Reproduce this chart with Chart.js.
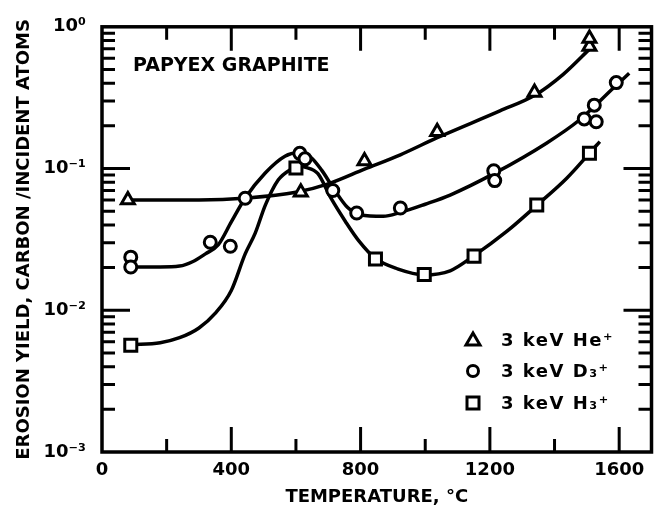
<!DOCTYPE html>
<html><head><meta charset="utf-8">
<script src="https://cdn.jsdelivr.net/npm/chart.js@4.4.1/dist/chart.umd.min.js"></script>
<style>html,body{margin:0;padding:0;background:#fff}#wrap{width:663px;height:508px;position:relative}</style>
</head><body><div id="wrap"><canvas id="c" width="663" height="508"></canvas></div>
<script>
// ---- measured points (temperature °C, erosion yield) ----
const heT = [80, 615, 812, 1037, 1338, 1508, 1508];
const heY = [0.060, 0.068, 0.113, 0.182, 0.344, 0.727, 0.826];
const dT = [89, 89, 335, 397, 443, 612, 628, 714, 788, 923, 1212, 1215, 1492, 1529, 1523, 1591];
const dY = [0.0237, 0.0202, 0.0302, 0.0283, 0.0617, 0.128, 0.117, 0.070, 0.0486, 0.0527, 0.0964, 0.0822, 0.224, 0.214, 0.280, 0.404];
const hT = [89, 600, 846, 997, 1151, 1345, 1508];
const hY = [0.00567, 0.101, 0.0230, 0.0179, 0.0241, 0.0552, 0.128];
// ---- fitted curves as drawn ----
const heFitT = [80, 300, 450, 600, 700, 812, 923, 1037, 1231, 1340, 1426, 1512];
const heFitY = [0.060, 0.060, 0.062, 0.068, 0.078, 0.099, 0.125, 0.165, 0.255, 0.33, 0.46, 0.71];
const dFitT = [90, 180, 240, 280, 320, 360, 400, 443, 505, 566, 606, 646, 680, 717, 760, 800, 870, 923, 1000, 1077, 1212, 1375, 1477, 1582, 1631];
const dFitY = [0.0202, 0.0202, 0.0205, 0.022, 0.025, 0.029, 0.042, 0.062, 0.093, 0.122, 0.129, 0.120, 0.097, 0.072, 0.053, 0.047, 0.046, 0.049, 0.056, 0.065, 0.092, 0.151, 0.22, 0.37, 0.47];
const hFitT = [89, 180, 240, 300, 350, 400, 443, 474, 505, 545, 585, 606, 630, 668, 708, 754, 794, 846, 914, 997, 1077, 1151, 1252, 1345, 1437, 1508, 1540];
const hFitY = [0.0057, 0.0059, 0.0064, 0.0075, 0.0095, 0.0138, 0.025, 0.035, 0.055, 0.083, 0.099, 0.104, 0.102, 0.092, 0.062, 0.042, 0.031, 0.0232, 0.0196, 0.0178, 0.019, 0.0243, 0.036, 0.055, 0.085, 0.128, 0.155];
// ---- axes / labels ----
const xTicks = [0, 400, 800, 1200, 1600];
const xMinorTicks = [200, 600, 1000, 1400];
const yTicks = [0.001, 0.01, 0.1, 1];
const yTickLabels = ['10\u207B\u00B3', '10\u207B\u00B2', '10\u207B\u00B9', '10\u2070'];
const seriesNames = ['3 keV He\u207A', '3 keV D\u2083\u207A', '3 keV H\u2083\u207A'];
const xTitle = 'TEMPERATURE, \u00B0C';
const yTitle = 'EROSION YIELD, CARBON /INCIDENT ATOMS';
const noteText = 'PAPYEX GRAPHITE';

const FONT = "'DejaVu Sans', sans-serif";
const pts = (xs, ys) => xs.map((x, i) => ({x: x, y: ys[i]}));

function lineDs(label, xs, ys) {
  return {label, data: pts(xs, ys), showLine: true, borderColor: '#000', borderWidth: 3.5,
    pointRadius: 0, pointHoverRadius: 0, cubicInterpolationMode: 'monotone', fill: false, order: 2};
}
function markDs(label, xs, ys, style, r) {
  return {label, data: pts(xs, ys), showLine: false, pointStyle: style, pointRadius: r,
    pointBackgroundColor: '#fff', pointBorderColor: '#000', pointBorderWidth: 3, order: 1};
}

const frame = {
  id: 'frame',
  afterDatasetsDraw(chart) {
    const {ctx, chartArea: a, scales: {x, y}} = chart;
    ctx.save();
    ctx.strokeStyle = '#000';
    ctx.lineWidth = 3.5;
    ctx.strokeRect(a.left, a.top, a.right - a.left, a.bottom - a.top);
    ctx.lineWidth = 3;
    ctx.beginPath();
    xTicks.concat(xMinorTicks).forEach(v => {
      if (v === 0) return;
      const px = x.getPixelForValue(v);
      const major = xTicks.includes(v);
      ctx.moveTo(px, a.bottom); ctx.lineTo(px, a.bottom - (major ? 25 : 13));
      ctx.moveTo(px, a.top); ctx.lineTo(px, a.top + (major ? 24 : 13));
    });
    for (let e = -3; e <= 0; e++) {
      for (let m = 1; m <= 9; m++) {
        const v = m * Math.pow(10, e);
        if (v > 1.0001) break;
        if (m === 1 && (e === -3 || e === 0)) continue;
        const py = y.getPixelForValue(v);
        const len = m === 1 ? 28 : 13;
        ctx.moveTo(a.left, py); ctx.lineTo(a.left + len, py);
        ctx.moveTo(a.right, py); ctx.lineTo(a.right - len, py);
      }
    }
    ctx.stroke();
    ctx.restore();
  },
  afterDraw(chart) {
    const {ctx} = chart;
    ctx.save();
    ctx.fillStyle = '#000';
    ctx.textBaseline = 'middle';
    ctx.textAlign = 'left';
    ctx.font = 'bold 19px ' + FONT;
    ctx.fillText(noteText, 133, 66);
    // legend
    const rows = [340, 371, 403];
    const mx = 473, tx = 501;
    ctx.strokeStyle = '#000';
    ctx.lineWidth = 3;
    ctx.fillStyle = '#fff';
    ctx.beginPath();
    ctx.moveTo(mx, rows[0] - 7); ctx.lineTo(mx + 7, rows[0] + 5); ctx.lineTo(mx - 7, rows[0] + 5); ctx.closePath();
    ctx.fill(); ctx.stroke();
    ctx.beginPath(); ctx.arc(mx, rows[1], 5.5, 0, Math.PI * 2); ctx.fill(); ctx.stroke();
    ctx.beginPath(); ctx.rect(mx - 6, rows[2] - 6, 12, 12); ctx.fill(); ctx.stroke();
    ctx.fillStyle = '#000';
    ctx.font = 'bold 18px ' + FONT;
    try { ctx.letterSpacing = '1.5px'; } catch (err) {}
    seriesNames.forEach((s, i) => ctx.fillText(s, tx, rows[i] + 1));
    ctx.restore();
  }
};

new Chart(document.getElementById('c'), {
  type: 'scatter',
  data: {
    datasets: [
      lineDs('He fit', heFitT, heFitY),
      lineDs('D fit', dFitT, dFitY),
      lineDs('H fit', hFitT, hFitY),
      markDs(seriesNames[0], heT, heY, 'triangle', 7.5),
      markDs(seriesNames[1], dT, dY, 'circle', 6),
      markDs(seriesNames[2], hT, hY, 'rect', 8.5)
    ]
  },
  options: {
    responsive: false,
    animation: false,
    devicePixelRatio: 1,
    layout: {padding: {top: 18, right: 8, left: 0, bottom: 0}},
    plugins: {legend: {display: false}, tooltip: {enabled: false}},
    events: [],
    scales: {
      x: {
        type: 'linear', min: 0, max: 1700,
        grid: {display: false, drawTicks: false}, border: {display: false},
        afterBuildTicks: s => { s.ticks = xTicks.map(v => ({value: v})); },
        afterFit: s => { s.height = 56; },
        ticks: {color: '#000', padding: 8, maxRotation: 0, font: {family: FONT, size: 18, weight: 'bold'},
          callback: v => String(v)},
        title: {display: true, text: xTitle, color: '#000', padding: {top: 0, bottom: 0},
          font: {family: FONT, size: 18, weight: 'bold'}}
      },
      y: {
        type: 'logarithmic', min: 0.001, max: 1,
        grid: {display: false, drawTicks: false}, border: {display: false},
        afterBuildTicks: s => { s.ticks = yTicks.map(v => ({value: v})); },
        afterFit: s => { s.width = 102; },
        ticks: {color: '#000', padding: 16, font: {family: FONT, size: 18, weight: 'bold'},
          callback: v => { const i = yTicks.findIndex(t => Math.abs(t - v) / t < 1e-6); return i >= 0 ? yTickLabels[i] : ''; }},
        title: {display: true, text: yTitle, color: '#000', padding: {top: 14, bottom: 0},
          font: {family: FONT, size: 18, weight: 'bold'}}
      }
    }
  },
  plugins: [frame]
});
</script>
</body></html>
